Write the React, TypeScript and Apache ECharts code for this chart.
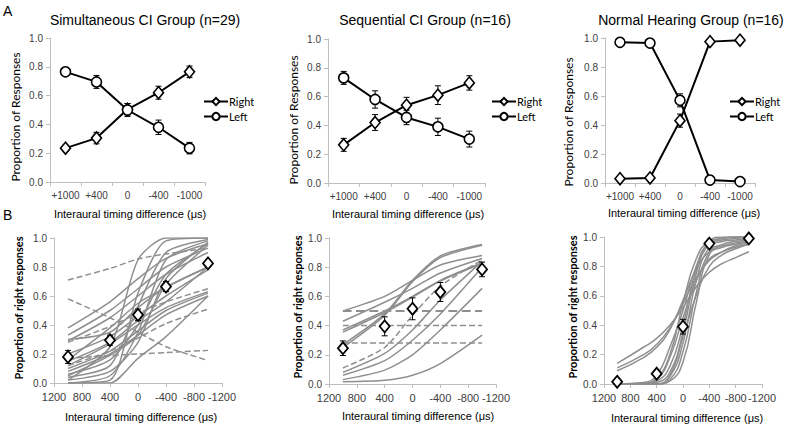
import React, { useEffect, useRef } from 'react';
import * as echarts from 'echarts';

// ---------- Panel A data ----------
const aCategories = ['+1000', '+400', '0', '-400', '-1000'];
const simRight = [0.235, 0.305, 0.505, 0.62, 0.765];
const simRightErr = [0.02, 0.04, 0.04, 0.045, 0.04];
const simLeft = [0.765, 0.695, 0.5, 0.38, 0.235];
const simLeftErr = [0.025, 0.045, 0.045, 0.05, 0.04];
const seqRight = [0.265, 0.42, 0.54, 0.61, 0.695];
const seqRightErr = [0.045, 0.055, 0.055, 0.065, 0.05];
const seqLeft = [0.73, 0.58, 0.455, 0.39, 0.305];
const seqLeftErr = [0.045, 0.06, 0.05, 0.06, 0.055];
const nhRight = [0.03, 0.035, 0.43, 0.975, 0.985];
const nhRightErr = [0.005, 0.005, 0.045, 0.005, 0.005];
const nhLeft = [0.97, 0.965, 0.57, 0.02, 0.01];
const nhLeftErr = [0.005, 0.005, 0.045, 0.005, 0.005];

// ---------- Panel B data ----------
const itdPoints = [1000, 400, 0, -400, -1000];
const simMean = [0.18, 0.295, 0.47, 0.665, 0.825];
const simMeanErr = [0.045, 0.035, 0.04, 0.035, 0.025];
const seqMean = [0.245, 0.395, 0.515, 0.63, 0.785];
const seqMeanErr = [0.05, 0.065, 0.075, 0.065, 0.05];
const nhMean = [0.015, 0.07, 0.39, 0.955, 0.99];
const nhMeanErr = [0.005, 0.01, 0.05, 0.01, 0.005];

// individual fits, values at itdPoints
const simFitsSolid = [
  [0.0, 0.02, 0.62, 0.98, 1.0],
  [0.02, 0.25, 0.85, 1.0, 1.0],
  [0.0, 0.0, 0.17, 0.32, 0.6],
  [0.38, 0.56, 0.72, 0.86, 0.96],
  [0.33, 0.5, 0.65, 0.8, 0.93],
  [0.29, 0.45, 0.6, 0.75, 0.9],
  [0.3, 0.35, 0.52, 0.66, 0.8],
  [0.2, 0.32, 0.46, 0.6, 0.78],
  [0.15, 0.28, 0.43, 0.56, 0.8],
  [0.12, 0.27, 0.4, 0.52, 0.63],
  [0.1, 0.22, 0.36, 0.5, 0.62],
  [0.08, 0.2, 0.33, 0.47, 0.6],
  [0.06, 0.16, 0.4, 0.75, 0.96],
  [0.04, 0.12, 0.53, 0.9, 0.99],
  [0.02, 0.08, 0.28, 0.72, 0.97],
  [0.0, 0.05, 0.35, 0.85, 0.98],
  [0.05, 0.19, 0.33, 0.68, 0.95],
  [0.16, 0.38, 0.55, 0.66, 0.8],
];
const simFitsDashed = [
  [0.71, 0.79, 0.855, 0.89, 0.93],
  [0.58, 0.45, 0.35, 0.25, 0.155],
  [0.17, 0.19, 0.2, 0.21, 0.225],
  [0.12, 0.22, 0.31, 0.41, 0.51],
  [0.28, 0.39, 0.48, 0.56, 0.65],
];
const seqFitsSolid = [
  [0.5, 0.6, 0.71, 0.815, 0.88],
  [0.27, 0.48, 0.71, 0.877, 0.955],
  [0.25, 0.47, 0.7, 0.865, 0.95],
  [0.43, 0.56, 0.655, 0.76, 0.86],
  [0.37, 0.5, 0.6, 0.71, 0.83],
  [0.355, 0.49, 0.595, 0.705, 0.825],
  [0.08, 0.21, 0.37, 0.575, 0.84],
  [0.06, 0.16, 0.3, 0.48, 0.8],
  [0.03, 0.095, 0.2, 0.37, 0.655],
  [0.015, 0.025, 0.06, 0.14, 0.335],
];
const seqFitsDashed = [
  [0.5, 0.5, 0.5, 0.5, 0.5],
  [0.4, 0.4, 0.4, 0.4, 0.4],
  [0.28, 0.28, 0.28, 0.28, 0.28],
  [0.11, 0.25, 0.47, 0.67, 0.85],
];
const nhFitPoints = [1000, 600, 400, 200, 0, -200, -400, -600, -800, -1000];
const nhFits = [
  [0.14, 0.25, 0.31, 0.4, 0.52, 0.66, 0.76, 0.82, 0.86, 0.9],
  [0.11, 0.2, 0.27, 0.38, 0.55, 0.72, 0.84, 0.9, 0.94, 0.96],
  [0.09, 0.18, 0.25, 0.37, 0.57, 0.78, 0.9, 0.94, 0.96, 0.97],
  [0.0, 0.005, 0.04, 0.2, 0.55, 0.85, 0.97, 0.99, 1.0, 1.0],
  [0.0, 0.01, 0.06, 0.25, 0.5, 0.8, 0.96, 0.99, 1.0, 1.0],
  [0.0, 0.0, 0.02, 0.12, 0.4, 0.78, 0.97, 1.0, 1.0, 1.0],
  [0.0, 0.0, 0.01, 0.08, 0.35, 0.75, 0.95, 0.98, 0.99, 1.0],
  [0.0, 0.0, 0.0, 0.05, 0.28, 0.7, 0.93, 0.97, 0.98, 0.99],
  [0.0, 0.0, 0.0, 0.03, 0.22, 0.62, 0.9, 0.95, 0.97, 0.98],
  [0.0, 0.0, 0.0, 0.02, 0.15, 0.55, 0.88, 0.93, 0.95, 0.97],
  [0.0, 0.0, 0.0, 0.06, 0.32, 0.6, 0.8, 0.88, 0.92, 0.95],
  [0.0, 0.0, 0.03, 0.18, 0.45, 0.7, 0.85, 0.9, 0.93, 0.95],
];

// ---------- texts ----------
const titlesA = ['Simultaneous CI Group (n=29)', 'Sequential CI Group (n=16)', 'Normal Hearing Group (n=16)'];
const xTitle = 'Interaural timing difference (\u03bcs)';
const yTitleA = 'Proportion of Responses';
const yTitleB = 'Proportion of right responses';

const AXIS_GRAY = '#bfbfbf';
const LABEL_GRAY = '#404040';
const FIT_GRAY = '#8f8f8f';
const SANS = '"Liberation Sans", Arial, sans-serif';
const CAL = 'Lato, "Open Sans", sans-serif';

function errRender(params: any, api: any) {
  const x = api.value(0);
  const lo = api.coord([x, api.value(1)]);
  const hi = api.coord([x, api.value(2)]);
  const w = 3;
  const st = { stroke: '#000', lineWidth: 1 };
  return {
    type: 'group',
    children: [
      { type: 'line', shape: { x1: lo[0], y1: lo[1], x2: hi[0], y2: hi[1] }, style: st },
      { type: 'line', shape: { x1: lo[0] - w, y1: lo[1], x2: lo[0] + w, y2: lo[1] }, style: st },
      { type: 'line', shape: { x1: hi[0] - w, y1: hi[1], x2: hi[0] + w, y2: hi[1] }, style: st },
    ],
  };
}

function errSeries(idx: number, xs: number[], vals: number[], errs: number[]) {
  return {
    type: 'custom',
    xAxisIndex: idx,
    yAxisIndex: idx,
    silent: true,
    z: 1,
    renderItem: errRender,
    encode: { x: 0, y: [1, 2] },
    data: vals.map((v, k) => [xs[k], v - errs[k], v + errs[k]]),
  };
}

const markerStyle = { color: '#fff', borderColor: '#000', borderWidth: 1.6, opacity: 1 };

export default function App() {
  const ref = useRef<HTMLDivElement>(null);
  useEffect(() => {
    if (!ref.current) return;
    const chart = echarts.init(ref.current, null, { renderer: 'svg' });

    const grids = [
      { left: 50, top: 38, width: 155, height: 144 },
      { left: 328, top: 39, width: 157, height: 144 },
      { left: 605, top: 38, width: 150, height: 145 },
      { left: 54, top: 238, width: 168, height: 145 },
      { left: 329, top: 238, width: 167, height: 146 },
      { left: 604, top: 237, width: 158, height: 147 },
    ];

    const axisLine = { show: true, onZero: false, lineStyle: { color: AXIS_GRAY, width: 1 } };
    const axisTick = { show: true, length: 4, lineStyle: { color: AXIS_GRAY } };

    const xAxes: any[] = [];
    const yAxes: any[] = [];
    for (let i = 0; i < 6; i++) {
      if (i < 3) {
        xAxes.push({
          gridIndex: i,
          type: 'category',
          data: aCategories,
          boundaryGap: true,
          axisLine,
          axisTick: { ...axisTick, alignWithLabel: false, interval: 0 },
          splitLine: { show: false },
          axisLabel: { fontSize: 10, color: LABEL_GRAY, margin: 8, fontFamily: SANS, interval: 0 },
        });
      } else {
        xAxes.push({
          gridIndex: i,
          type: 'value',
          min: -1200,
          max: 1200,
          interval: 400,
          inverse: true,
          axisLine,
          axisTick,
          splitLine: { show: false },
          axisLabel: { fontSize: 11, color: LABEL_GRAY, margin: 8, fontFamily: SANS, formatter: (v: number) => String(v) },
        });
      }
      yAxes.push({
        gridIndex: i,
        type: 'value',
        min: 0,
        max: 1,
        interval: 0.2,
        axisLine,
        axisTick,
        splitLine: { show: false },
        axisLabel: { fontSize: 10, color: LABEL_GRAY, margin: 7, fontFamily: SANS, formatter: (v: number) => v.toFixed(1) },
      });
    }

    const series: any[] = [];
    const catIdx = [0, 1, 2, 3, 4];
    const aSets = [
      [simRight, simRightErr, simLeft, simLeftErr],
      [seqRight, seqRightErr, seqLeft, seqLeftErr],
      [nhRight, nhRightErr, nhLeft, nhLeftErr],
    ];
    aSets.forEach(([r, re, l, le], i) => {
      series.push(errSeries(i, catIdx, r, re));
      series.push(errSeries(i, catIdx, l, le));
      series.push({
        type: 'line', name: 'Right', xAxisIndex: i, yAxisIndex: i, data: r,
        symbol: 'diamond', symbolSize: [10, 12], showAllSymbol: true,
        lineStyle: { color: '#000', width: 2 }, itemStyle: markerStyle, z: 3,
      });
      series.push({
        type: 'line', name: 'Left', xAxisIndex: i, yAxisIndex: i, data: l,
        symbol: 'circle', symbolSize: 10, showAllSymbol: true,
        lineStyle: { color: '#000', width: 2 }, itemStyle: markerStyle, z: 3,
      });
    });

    const fitLine = (idx: number, xs: number[], row: number[], dashed: boolean, smooth: number | boolean, w = 1.5) => ({
      type: 'line', name: 'fit', xAxisIndex: idx, yAxisIndex: idx, silent: true,
      data: xs.map((x, k) => [x, row[k]]), symbol: 'none', smooth,
      lineStyle: { color: FIT_GRAY, width: w, type: dashed ? 'dashed' : 'solid' }, z: 2,
    });

    simFitsSolid.forEach((row) => series.push(fitLine(3, itdPoints, row, false, 0.25)));
    simFitsDashed.forEach((row) => series.push(fitLine(3, itdPoints, row, true, 0.25)));
    seqFitsSolid.forEach((row) => series.push(fitLine(4, itdPoints, row, false, 0.25)));
    seqFitsDashed.forEach((row, k) => series.push(fitLine(4, itdPoints, row, true, 0.25, k === 0 ? 2.2 : 1.5)));
    nhFits.forEach((row) => series.push(fitLine(5, nhFitPoints, row, false, 0.5)));

    const bSets = [
      [simMean, simMeanErr],
      [seqMean, seqMeanErr],
      [nhMean, nhMeanErr],
    ];
    bSets.forEach(([m, e], j) => {
      const idx = j + 3;
      series.push({ ...errSeries(idx, itdPoints, m, e), z: 4 });
      series.push({
        type: 'scatter', name: 'mean', xAxisIndex: idx, yAxisIndex: idx, silent: true,
        data: itdPoints.map((x, k) => [x, m[k]]),
        symbol: 'diamond', symbolSize: [10, 12],
        itemStyle: { color: '#fff', borderColor: '#000', borderWidth: 1.8, opacity: 1 }, z: 5,
      });
    });

    const legendLefts = [203, 491, 729];
    const legends = legendLefts.map((left) => ({
      data: ['Right', 'Left'], left, top: 96, orient: 'vertical', itemGap: 4, padding: 0,
      itemWidth: 24, itemHeight: 9, selectedMode: false,
      textStyle: { fontSize: 11, fontFamily: CAL, color: '#000', padding: [0, 0, 0, -4] },
    }));

    const txt = (text: string, x: number, y: number, size: number, opts: any = {}) => ({
      type: 'text', x, y, rotation: opts.rotation || 0, silent: true,
      style: {
        text, fontSize: size, fontFamily: opts.family || SANS, fontWeight: opts.weight || 'normal',
        fill: opts.fill || '#000', align: opts.align || 'center', verticalAlign: 'middle',
      },
    });
    const R = Math.PI / 2;
    const graphics = [
      txt('A', 3, 11, 14, { align: 'left' }),
      txt('B', 3, 215, 14, { align: 'left' }),
      txt(titlesA[0], 145, 20, 14),
      txt(titlesA[1], 425, 20, 14),
      txt(titlesA[2], 691, 20, 14),
      txt(xTitle, 130, 214, 11),
      txt(xTitle, 408, 214, 11),
      txt(xTitle, 684, 213, 11),
      txt(xTitle, 141, 417, 11),
      txt(xTitle, 418, 416, 11),
      txt(xTitle, 687, 418, 11),
      txt(yTitleA, 15, 117, 12, { rotation: R, family: CAL }),
      txt(yTitleA, 293, 120, 12, { rotation: R, family: CAL }),
      txt(yTitleA, 568, 122, 12, { rotation: R, family: CAL }),
      txt(yTitleB, 18, 308, 11, { rotation: R, family: CAL, weight: 'bold' }),
      txt(yTitleB, 297, 307, 11, { rotation: R, family: CAL, weight: 'bold' }),
      txt(yTitleB, 572, 307, 11, { rotation: R, family: CAL, weight: 'bold' }),
    ];

    chart.setOption({
      animation: false,
      backgroundColor: '#fff',
      textStyle: { fontFamily: SANS },
      grid: grids,
      xAxis: xAxes,
      yAxis: yAxes,
      legend: legends,
      series,
      graphic: graphics,
    });
    return () => chart.dispose();
  }, []);

  return <div ref={ref} style={{ position: 'absolute', left: 0, top: 0, width: 788, height: 430 }} />;
}
